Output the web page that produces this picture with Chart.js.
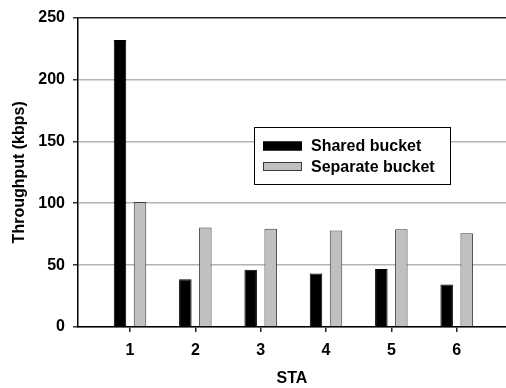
<!DOCTYPE html>
<html>
<head>
<meta charset="utf-8">
<script src="https://cdn.jsdelivr.net/npm/chart.js@4/dist/chart.umd.min.js"></script>
<style>
  html, body { margin: 0; padding: 0; background: #fff; overflow: hidden; }
  #wrap { width: 506px; height: 388px; position: relative; }
</style>
</head>
<body>
<div id="wrap"><canvas id="c" width="506" height="388"></canvas></div>
<script>
// Stations on the x axis
const stations = [1, 2, 3, 4, 5, 6];
// Throughput per station (kbps)
const sharedBucket = [232, 38.5, 46.3, 43.3, 46.8, 34.4];
const separateBucket = [101, 80.4, 79.3, 78, 79, 75.8];
// Y axis ticks
const yTicks = [0, 50, 100, 150, 200, 250];
const seriesNames = ['Shared bucket', 'Separate bucket'];

const FONT = '"Liberation Sans", Arial, sans-serif';

// Legend drawn as a framed box inside the plot area
const boxLegend = {
  id: 'boxLegend',
  afterDraw(chart) {
    const ctx = chart.ctx;
    const x0 = 254.5, y0 = 127.5, w = 196, h = 57;
    ctx.save();
    ctx.fillStyle = '#fff';
    ctx.fillRect(x0, y0, w, h);
    ctx.strokeStyle = '#000';
    ctx.lineWidth = 1;
    ctx.strokeRect(x0, y0, w, h);
    ctx.font = 'bold 16px ' + FONT;
    ctx.textBaseline = 'middle';
    ctx.textAlign = 'left';
    chart.data.datasets.forEach((ds, i) => {
      const cy = 146 + i * 20.5;
      ctx.fillStyle = ds.backgroundColor;
      ctx.fillRect(263, cy - 4.5, 39, 9);
      ctx.strokeStyle = ds.borderColor;
      ctx.lineWidth = 1;
      ctx.strokeRect(263.5, cy - 4, 38, 8);
      ctx.fillStyle = '#000';
      ctx.fillText(ds.label, 311, cy + 1);
    });
    ctx.restore();
  }
};

const toPoints = arr => arr.map((v, i) => ({ x: stations[i], y: v }));

new Chart(document.getElementById('c'), {
  type: 'bar',
  data: {
    datasets: [
      {
        label: seriesNames[0],
        data: toPoints(sharedBucket),
        backgroundColor: '#000000',
        borderColor: '#000000',
        borderWidth: 1
      },
      {
        label: seriesNames[1],
        data: toPoints(separateBucket),
        backgroundColor: '#c0c0c0',
        borderColor: '#3a3a3a',
        borderWidth: 1
      }
    ]
  },
  options: {
    responsive: false,
    animation: false,
    devicePixelRatio: 1,
    categoryPercentage: 0.6126,
    barPercentage: 0.625,
    layout: { padding: { top: 16, right: 0, left: 0, bottom: 0 } },
    plugins: {
      legend: { display: false },
      tooltip: { enabled: false }
    },
    scales: {
      x: {
        type: 'linear',
        min: 0.204,
        max: 6.755,
        offset: false,
        afterBuildTicks: s => { s.ticks = stations.map(v => ({ value: v })); },
        afterFit: s => { s.height = 61; },
        border: { display: true, color: '#000', width: 1.5 },
        grid: {
          offset: false,
          drawOnChartArea: false,
          drawTicks: true,
          tickLength: 5,
          tickColor: '#222',
          lineWidth: 1.5
        },
        ticks: {
          color: '#000',
          padding: 9,
          autoSkip: false,
          maxRotation: 0,
          font: { family: FONT, size: 16, weight: 'bold' },
          callback: v => String(v)
        },
        title: {
          display: true,
          text: 'STA',
          color: '#000',
          padding: { top: 2, bottom: 0 },
          font: { family: FONT, size: 16, weight: 'bold' }
        }
      },
      y: {
        min: 0,
        max: 250,
        afterBuildTicks: s => { s.ticks = yTicks.map(v => ({ value: v })); },
        afterFit: s => { s.width = 78; },
        border: { display: true, color: '#000', width: 1.5 },
        grid: {
          color: ctx => (ctx.tick && ctx.tick.value === 250) ? '#222' : '#b4b4b4',
          lineWidth: 1.5,
          tickLength: 5,
          tickColor: '#333'
        },
        ticks: {
          color: '#000',
          padding: 8,
          font: { family: FONT, size: 16, weight: 'bold' }
        },
        title: {
          display: true,
          text: 'Throughput (kbps)',
          color: '#000',
          padding: { top: 10, bottom: 0 },
          font: { family: FONT, size: 16, weight: 'bold' }
        }
      }
    }
  },
  plugins: [boxLegend]
});
</script>
</body>
</html>
